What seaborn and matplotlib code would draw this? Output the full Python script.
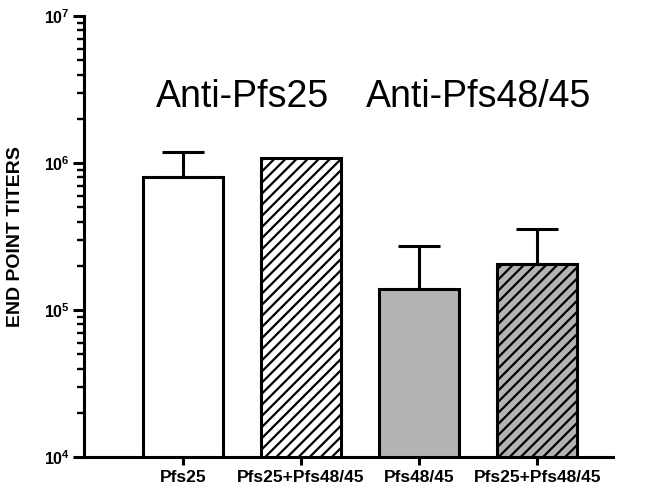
import matplotlib
matplotlib.use("Agg")
import matplotlib.pyplot as plt
from matplotlib.markers import TICKLEFT
import seaborn as sns
import pandas as pd
from matplotlib.ticker import FixedLocator, NullFormatter

sns.set_style("ticks")
plt.rcParams["font.family"] = ["Liberation Sans", "DejaVu Sans"]
plt.rcParams["font.weight"] = "bold"
plt.rcParams["hatch.linewidth"] = 1.6
for key in ["text.color", "axes.labelcolor", "xtick.color", "ytick.color", "axes.edgecolor"]:
    plt.rcParams[key] = "black"

# data
groups = ["Pfs25", "Pfs25+Pfs48/45 ", "Pfs48/45", "Pfs25+Pfs48/45"]
tick_labels = ["Pfs25", "Pfs25+Pfs48/45", "Pfs48/45", "Pfs25+Pfs48/45"]
titers = [8.0e5, 1.08e6, 1.39e5, 2.05e5]
upper_err = [3.9e5, 0.0, 1.33e5, 1.5e5]
fills = ["white", "white", "#b3b3b3", "#b3b3b3"]
hatches = ["", "///", "", "///"]
headers = ["Anti-Pfs25", "Anti-Pfs48/45"]
header_x = [0.5, 2.5]
header_y = [2.8e6, 2.8e6]

df = pd.DataFrame({"group": groups, "titer": titers})

fig = plt.figure(figsize=(6.45, 4.91), dpi=100)
ax = fig.add_axes([0.130, 0.069, 0.820, 0.898])

sns.barplot(data=df, x="group", y="titer", hue="group", palette=fills,
            legend=False, width=0.68, edgecolor="black", linewidth=2.2,
            errorbar=None, ax=ax)
for patch, h in zip(ax.patches, hatches):
    patch.set_hatch(h)

# upper-only error bars
has_err = [i for i, e in enumerate(upper_err) if e > 0]
ax.errorbar(has_err, [titers[i] for i in has_err],
            yerr=[[0] * len(has_err), [upper_err[i] for i in has_err]],
            fmt="none", ecolor="black", elinewidth=2.2, capsize=15,
            capthick=2.2, zorder=1)

ax.set_yscale("log")
ax.set_ylim(1e4, 1e7)
ax.set_xlim(-0.84, 3.64)

ax.set_xticks(range(len(groups)))
ax.set_xticklabels(tick_labels, fontsize=12.5, fontweight="bold")
ax.set_xlabel("")
ax.set_ylabel("END POINT TITERS", fontsize=14, fontweight="bold", labelpad=14)

for name, x, y in zip(headers, header_x, header_y):
    ax.text(x, y, name, ha="center", va="center", fontsize=27, fontweight="normal")

sns.despine(ax=ax)
for side in ["left", "bottom"]:
    ax.spines[side].set_linewidth(2.2)
ax.tick_params(axis="y", which="major", length=8, width=2.2, pad=2, labelsize=11.5)
ax.tick_params(axis="x", which="major", length=6, width=2.2)

# minor log ticks on the y axis (2..9 within each decade)
minor_locs = [k * 10 ** e for e in range(4, 7) for k in range(2, 10)]
ax.yaxis.set_minor_locator(FixedLocator(minor_locs))
ax.yaxis.set_minor_formatter(NullFormatter())
ax.tick_params(axis="y", which="minor", left=True, length=4, width=1.6)
# draw them as tick markers too, so they show whatever the tick machinery does
ax.plot([0] * len(minor_locs), minor_locs, linestyle="none", marker=TICKLEFT,
        markersize=5, markeredgewidth=1.6, color="black",
        transform=ax.get_yaxis_transform(), clip_on=False)

fig.savefig("out.png", dpi=100)
